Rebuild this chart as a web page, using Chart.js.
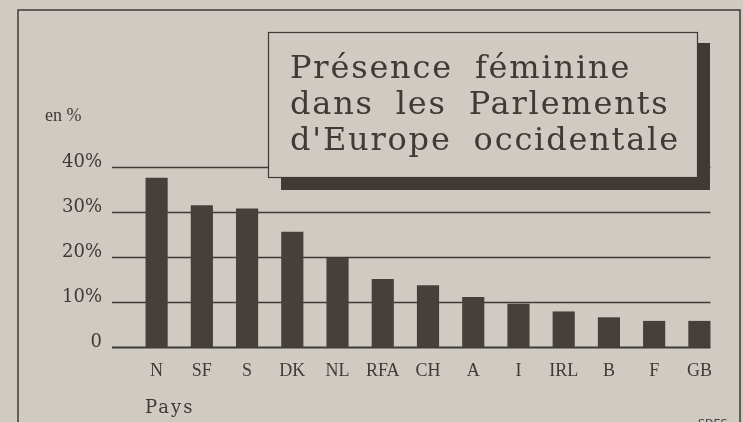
<!DOCTYPE html>
<html>
<head>
<meta charset="utf-8">
<script src="https://cdn.jsdelivr.net/npm/chart.js@4.4.0/dist/chart.umd.min.js"></script>
<style>
  html, body { margin: 0; padding: 0; background: #cfcac2; }
  canvas { display: block; }
</style>
</head>
<body>
<canvas id="chart" width="743" height="422"></canvas>
<script>
const pays = ["N", "SF", "S", "DK", "NL", "RFA", "CH", "A", "I", "IRL", "B", "F", "GB"];
const pourcentages = [37.6, 31.5, 30.8, 25.6, 19.8, 15.1, 13.7, 11.1, 9.6, 7.9, 6.6, 5.8, 5.8];
const graduations = [0, 10, 20, 30, 40];
const titre = ["Présence féminine", "dans les Parlements", "d'Europe occidentale"];

const fond = "#cfcac2";
const encre = "#3f3a36";

// lignes horizontales, du bord gauche jusqu'a la derniere barre
const grille = {
  id: "grille",
  beforeDatasetsDraw(chart) {
    const ctx = chart.ctx;
    const y = chart.scales.y;
    const barres = chart.getDatasetMeta(0).data;
    const derniere = barres[barres.length - 1];
    const x0 = chart.chartArea.left - 22;
    const x1 = derniere.x + derniere.width / 2;
    ctx.save();
    ctx.strokeStyle = encre;
    graduations.forEach((v) => {
      const py = Math.round(y.getPixelForValue(v)) + 0.5;
      ctx.lineWidth = v === 0 ? 2 : 1.5;
      ctx.beginPath();
      ctx.moveTo(x0, py);
      ctx.lineTo(x1, py);
      ctx.stroke();
    });
    ctx.restore();
  },
};

// cadre, encadre du titre, textes libres
const habillage = {
  id: "habillage",
  afterDraw(chart) {
    const ctx = chart.ctx;
    ctx.save();
    ctx.strokeStyle = encre;
    ctx.lineWidth = 1.5;
    ctx.strokeRect(18, 10, 722, 430);

    ctx.fillStyle = encre;
    ctx.fillRect(281, 43, 429, 147);
    ctx.fillStyle = fond;
    ctx.fillRect(268, 32, 430, 146);
    ctx.lineWidth = 1.2;
    ctx.strokeRect(268.5, 32.5, 429, 145);

    ctx.fillStyle = encre;
    ctx.font = '32px "DejaVu Serif"';
    ctx.textBaseline = "alphabetic";
    ctx.textAlign = "left";
    ctx.wordSpacing = "10px";
    // espacement reglé sur la ligne la plus longue
    const w = ctx.measureText(titre[2]).width;
    ctx.letterSpacing = Math.max(0, (388 - w) / (titre[2].length - 1)).toFixed(2) + "px";
    titre.forEach((ligne, i) => ctx.fillText(ligne, 290, 78 + i * 36));
    ctx.letterSpacing = "0px";
    ctx.wordSpacing = "0px";

    ctx.font = '18px "Liberation Serif"';
    ctx.fillText("en %", 45, 121);
    ctx.font = '18px "DejaVu Serif"';
    ctx.letterSpacing = "2px";
    ctx.fillText("Pays", 145, 413);
    ctx.letterSpacing = "0px";
    ctx.font = '11px "DejaVu Sans"';
    ctx.fillText("SDES", 698, 427);
    ctx.restore();
  },
};

new Chart(document.getElementById("chart"), {
  type: "bar",
  data: {
    labels: pays,
    datasets: [
      {
        data: pourcentages,
        backgroundColor: "#45403b",
        borderWidth: 0,
        barPercentage: 0.49,
        categoryPercentage: 1,
      },
    ],
  },
  options: {
    responsive: false,
    devicePixelRatio: 1,
    animation: false,
    layout: { padding: { left: 0, right: 21, top: 167, bottom: 0 } },
    plugins: {
      legend: { display: false },
      title: { display: false },
      tooltip: { enabled: false },
    },
    scales: {
      x: {
        grid: { display: false, drawTicks: false },
        border: { display: false },
        ticks: {
          color: encre,
          font: { family: "Liberation Serif", size: 18 },
          padding: 13,
          maxRotation: 0,
          autoSkip: false,
        },
        afterFit: (scale) => { scale.height = 75; },
      },
      y: {
        min: 0,
        max: 40,
        grid: { display: false, drawTicks: false },
        border: { display: false },
        afterBuildTicks: (scale) => {
          scale.ticks = graduations.map((v) => ({ value: v }));
        },
        ticks: {
          color: encre,
          font: { family: "DejaVu Serif", size: 18 },
          padding: 32,
          labelOffset: -5,
          callback: (v) => (v === 0 ? "0" : v + "%"),
        },
        afterFit: (scale) => { scale.width = 134; },
      },
    },
  },
  plugins: [grille, habillage],
});
</script>
</body>
</html>
